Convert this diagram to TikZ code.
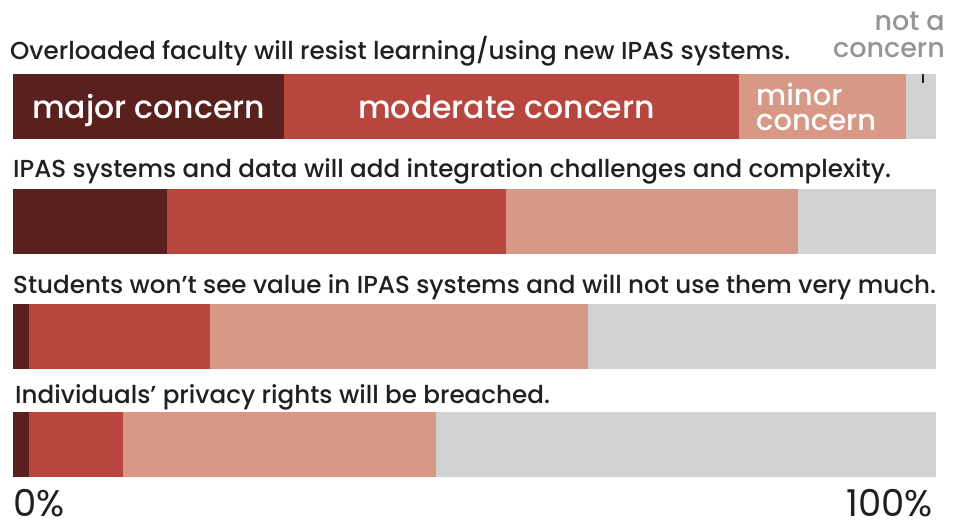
\documentclass[tikz,border=0pt]{standalone}
\usepackage{fontspec}
\setmainfont{Poppins}
\newfontfamily\medfont{Poppins Medium}
\definecolor{ink}{HTML}{231F20}
\definecolor{major}{HTML}{5A201D}
\definecolor{moderate}{HTML}{B9463E}
\definecolor{minor}{HTML}{D89886}
\definecolor{notc}{HTML}{D1D2D4}
\definecolor{greytxt}{HTML}{939598}
\begin{document}
\begin{tikzpicture}[x=1pt, y=-1pt,
  ttl/.style={anchor=base west, inner sep=0pt, text=ink, font=\medfont\fontsize{24.6}{25}\selectfont},
  inbar/.style={anchor=base west, inner sep=0pt, text=white, font=\medfont\fontsize{31.5}{26}\selectfont, align=left},
  pct/.style={anchor=base, inner sep=0pt, text=ink, font=\fontsize{37}{37}\selectfont}
]
\useasboundingbox (0,0) rectangle (969,525);

% bars: top / major end / moderate end / minor end
\foreach \ya/\a/\b/\c in {74/284/739/906, 189/167/506/798, 304/29/210/588, 412/29/123/436} {
  \fill[major]    (13,\ya) rectangle (\a,\ya+65);
  \fill[moderate] (\a,\ya) rectangle (\b,\ya+65);
  \fill[minor]    (\b,\ya) rectangle (\c,\ya+65);
  \fill[notc]     (\c,\ya) rectangle (936,\ya+65);
}

% questions
\node[ttl] (q1) at (10,59) {Overloaded faculty will resist learning/using new IPAS systems.};
\node[ttl] (q2) at (13,177) {IPAS systems and data will add integration challenges and complexity.};
\node[ttl] (q3) at (13,293) {Students won’t see value in IPAS systems and will not use them very much.};
\node[ttl] (q4) at (15,403) {Individuals’ privacy rights will be breached.};

% legend inside first bar
\node[inbar] (maj) at (32,118) {major concern};
\node[inbar] (mod) at (358,118) {moderate concern};
\node[inbar, font=\medfont\fontsize{29}{25}\selectfont] (mnr) at (756,130) {minor\\concern};
\node[anchor=base east, inner sep=0pt, text=greytxt, align=right,
  font=\medfont\fontsize{27}{27}\selectfont] (nac) at (945,57) {not a\\concern};
\coordinate (tk) at (923,74);
\draw[ink, line width=2.5pt] (tk) -- ++(0,9);

% scale ends
\node[pct, anchor=base west] (p0) at (13,516) {0\%};
\node[pct, anchor=base east] (p100) at (933,516) {100\%};
\end{tikzpicture}
\end{document}
